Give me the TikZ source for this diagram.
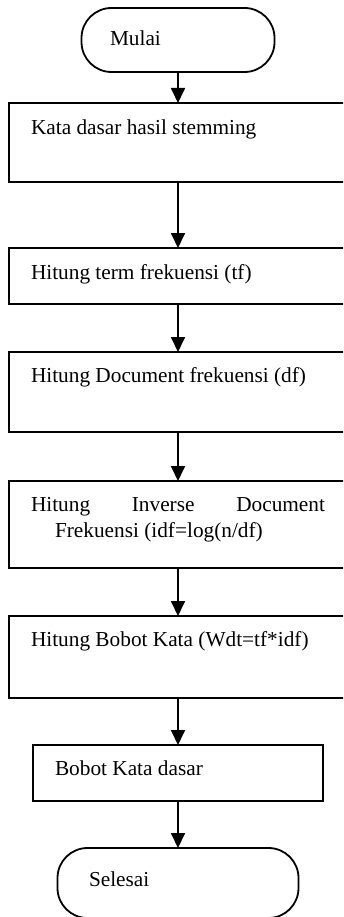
\documentclass[tikz,border=0pt]{standalone}
\usepackage{fontspec}
\setmainfont{Liberation Serif}
\usetikzlibrary{arrows.meta}
\begin{document}
\begin{tikzpicture}[x=1pt,y=-1pt,
  every node/.style={inner sep=0pt, outer sep=0pt},
  procbox/.style={draw, line width=1.8pt, rectangle},
  terminal/.style={draw, line width=1.8pt, rectangle, rounded corners=30pt},
  lbl/.style={anchor=base west, font=\fontsize{21.3}{25.5}\selectfont},
  arr/.style={line width=1.8pt, -{Triangle[length=15pt,width=14pt]}}]
\useasboundingbox (0,0) rectangle (343,917);
\clip (0,0) rectangle (343,917);

% flowchart shapes
\node[terminal, minimum width=193pt, minimum height=64pt] (start) at (178,40) {};
\node[procbox, minimum width=338pt, minimum height=79pt] (b1) at (178,142.5) {};
\node[procbox, minimum width=338pt, minimum height=56pt] (b2) at (178,276) {};
\node[procbox, minimum width=338pt, minimum height=80pt] (b3) at (178,392) {};
\node[procbox, minimum width=338pt, minimum height=87pt] (b4) at (178,524.5) {};
\node[procbox, minimum width=338pt, minimum height=82pt] (b5) at (178,657) {};
\node[procbox, minimum width=290pt, minimum height=56pt] (b6) at (178,773) {};
\node[terminal, minimum width=241pt, minimum height=70pt] (stop) at (178,883) {};

% labels
\node[lbl] (t0) at (110,45.5) {Mulai};
\node[lbl] (t1) at (31,135) {Kata dasar hasil stemming};
\node[lbl] (t2) at (31,279) {Hitung term frekuensi (tf)};
\node[lbl] (t3) at (31,382.5) {Hitung Document frekuensi (df)};
\node[lbl] (t4a) at (31,511.7) {\makebox[294pt][s]{Hitung Inverse Document}};
\node[lbl] (t4b) at (55,537) {Frekuensi (idf=log(n/df)};
\node[lbl] (t5) at (31,646.7) {Hitung Bobot Kata (Wdt=tf*idf)};
\node[lbl] (t6) at (55,775) {Bobot Kata dasar};
\node[lbl] (t7) at (89,886.7) {Selesai};

% flow
\draw[arr] (start) -- (b1);
\draw[arr] (b1) -- (b2);
\draw[arr] (b2) -- (b3);
\draw[arr] (b3) -- (b4);
\draw[arr] (b4) -- (b5);
\draw[arr] (b5) -- (b6);
\draw[arr] (b6) -- (stop);
\end{tikzpicture}
\end{document}
